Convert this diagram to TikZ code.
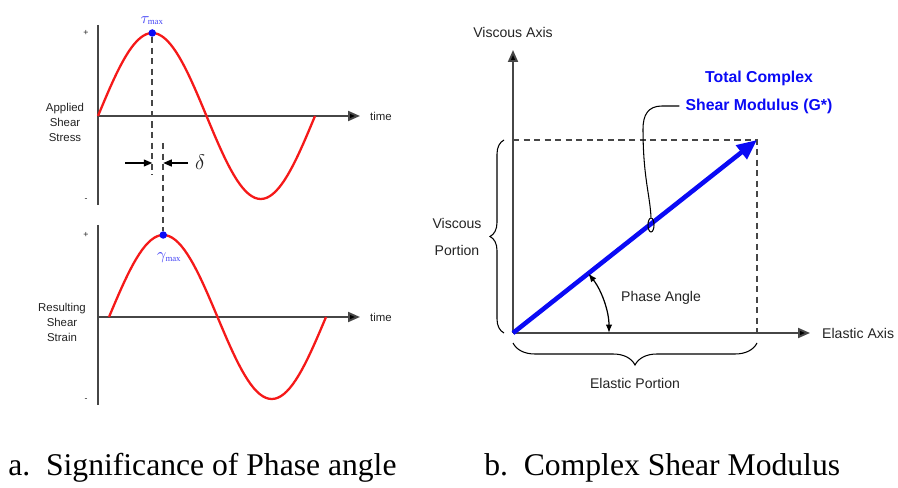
\documentclass[tikz,border=0pt]{standalone}
\usepackage{fontspec}
\setmainfont{Liberation Serif}
\setsansfont{Liberation Sans}
\usetikzlibrary{arrows.meta,positioning,decorations.pathreplacing,shapes.geometric}
\definecolor{axisgray}{RGB}{70,70,70}
\definecolor{txtgray}{RGB}{35,35,35}
\definecolor{wavered}{RGB}{245,25,25}
\definecolor{vecblue}{RGB}{10,10,245}
\definecolor{peakblue}{RGB}{70,70,245}
\tikzset{
  axisline/.style={draw=axisgray,line width=1.1pt},
  axisarrow/.style={axisline,-{Triangle[length=0.24cm,width=0.2cm,fill=black]}},
  wave/.style={draw=wavered,line width=1.3pt},
  guide/.style={draw=axisgray,line width=1pt,dash pattern=on 3.5pt off 2.5pt},
  tiny/.style={font=\sffamily\fontsize{6.5}{8.5}\selectfont,text=txtgray,align=center},
  sign/.style={font=\sffamily\fontsize{5}{5}\selectfont,text=txtgray},
  lbl/.style={font=\sffamily\fontsize{8}{15}\selectfont,text=txtgray,align=center},
  gtxt/.style={font=\sffamily\bfseries\fontsize{9}{9}\selectfont,text=vecblue},
  peak/.style={circle,fill=vecblue,inner sep=0pt,minimum size=0.15cm},
  maxlbl/.style={text=peakblue,font=\fontsize{9}{9}\selectfont,inner sep=1pt},
  capt/.style={font=\fontsize{18}{20}\selectfont,anchor=base west,inner sep=0pt},
  brc/.style={decorate,draw=black,line width=0.6pt},
}

\begin{document}
\begin{tikzpicture}[x=0.02cm,y=0.02cm]
\useasboundingbox (0,0) rectangle (898,487);

% a. stress and strain
\coordinate (sTop) at (98,462);
\coordinate (sBot) at (98,282);
\coordinate (sO) at (98,371);
\coordinate (sEnd) at (360,371);
\draw[axisline] (sTop) -- (sBot);
\draw[axisarrow] (sO) -- (sEnd);
\node[tiny,anchor=west] (stime) at (364,371) {time};
\node[sign] (splus) at (86,454) {+};
\node[sign] (sminus) at (86,287) {-};
\node[tiny] (stress) at (65,365) {Applied\\Shear\\Stress};
\draw[wave] plot[domain=0:360,samples=73] ({98+(\x/360)*217},{371+83*sin(\x)});

\coordinate (eTop) at (98,262);
\coordinate (eBot) at (98,82);
\coordinate (eO) at (98,170);
\coordinate (eEnd) at (360,170);
\draw[axisline] (eTop) -- (eBot);
\draw[axisarrow] (eO) -- (eEnd);
\node[tiny,anchor=west] (etime) at (364,170) {time};
\node[sign] (eplus) at (86,252) {+};
\node[sign] (eminus) at (86,87) {-};
\node[tiny] (strain) at (62,165) {Resulting\\Shear\\Strain};
\draw[wave] plot[domain=0:360,samples=73] ({109+(\x/360)*217},{170+82*sin(\x)});

\node[peak] (tmax) at (152.25,454) {};
\node[maxlbl,above=1pt of tmax] (tlab) {$\tau_{\scriptscriptstyle\mathrm{max}}$};
\node[peak] (gmax) at (163.25,252) {};
\node[maxlbl,anchor=north west] (glab) at (155,236) {$\gamma_{\scriptscriptstyle\mathrm{max}}$};

\coordinate (d1) at (152.25,312);
\coordinate (d2) at (163.25,344);
\draw[guide] (tmax) -- (d1);
\draw[guide] (d2) -- (gmax);

\coordinate (da) at (125,324);
\coordinate (db) at (152.25,324);
\coordinate (dc) at (188,324);
\coordinate (dd) at (163.25,324);
\draw[line width=0.7pt,-{Triangle[length=0.17cm,width=0.14cm]}] (da) -- (db);
\draw[line width=0.7pt,-{Triangle[length=0.17cm,width=0.14cm]}] (dc) -- (dd);
\node[font=\fontsize{12}{12}\selectfont,text=txtgray] (delta) at (200,325) {$\delta$};

% b. complex modulus
\coordinate (O) at (513,154);
\coordinate (vTip) at (513,437);
\coordinate (hTip) at (810,154);
\coordinate (G) at (757,347);
\coordinate (Gy) at (513,347);
\coordinate (Gx) at (757,154);
\draw[axisarrow] (O) -- (vTip);
\draw[axisarrow] (O) -- (hTip);
\node[lbl] (vaxis) at (513,455) {Viscous Axis};
\node[lbl,anchor=west] (haxis) at (816,154) {Elastic Axis};
\draw[guide] (Gy) -- (G) -- (Gx);
\draw[vecblue,line width=2.6pt,-{Triangle[length=0.4cm,width=0.34cm]}] (O) -- (G);

\draw[brc,decoration={brace,amplitude=0.28cm}] (504,154) -- (504,347);
\node[lbl] (vport) at (457,250) {Viscous\\Portion};
\draw[brc,decoration={brace,amplitude=0.44cm}] (757,144) -- (513,144);
\node[lbl] (eport) at (635,104) {Elastic Portion};

\coordinate (a0) at (609,154);
\draw[line width=0.7pt,{Latex[length=0.17cm,width=0.13cm]}-{Latex[length=0.17cm,width=0.13cm]}]
  (a0) arc[start angle=0,end angle=38.3,radius=1.92cm];
\node[lbl,anchor=west] (phase) at (615,189) {Phase Angle};

\node[gtxt] (gtop) at (759,409) {Total Complex};
\node[gtxt] (gname) at (759,381) {Shear Modulus (G*)};
\node[ellipse,draw,line width=0.6pt,inner sep=0pt,minimum width=0.12cm,minimum height=0.28cm] (ring) at (651,262) {};
\coordinate (k1) at (662,381);
\coordinate (k2) at (643,358);
\draw[line width=0.6pt] (gname.west) -- (k1) .. controls (648,381) and (643,372) .. (k2)
  .. controls (643,310) and (650,292) .. (ring.north);

\node[capt] (capa) at (8,12) {a.\ \ Significance of Phase angle};
\node[capt] (capb) at (484,12) {b.\ \ Complex Shear Modulus};
\end{tikzpicture}
\end{document}
